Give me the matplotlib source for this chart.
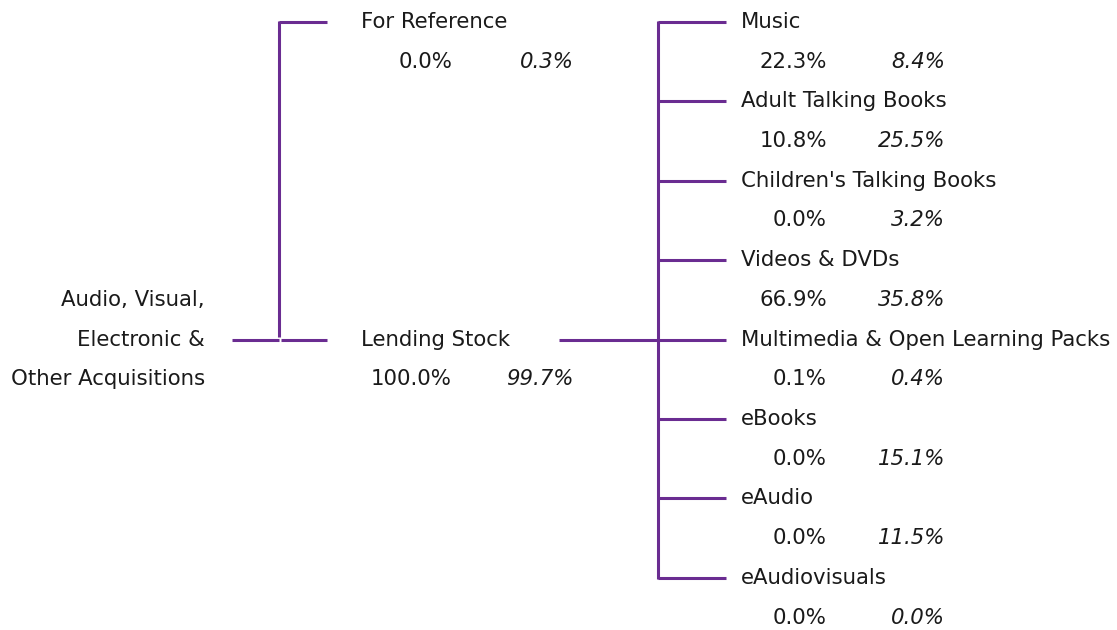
import matplotlib
matplotlib.use("Agg")
import matplotlib.pyplot as plt

plt.rcParams["font.family"] = ["DejaVu Sans"]

# ---- data ----
root_label = ["Audio, Visual,", "Electronic &", "Other Acquisitions"]
level1_names = ["For Reference", "Lending Stock"]
level1_pct_a = [0.0, 100.0]
level1_pct_b = [0.3, 99.7]
level2_names = ["Music", "Adult Talking Books", "Children's Talking Books",
                "Videos & DVDs", "Multimedia & Open Learning Packs",
                "eBooks", "eAudio", "eAudiovisuals"]
level2_pct_a = [22.3, 10.8, 0.0, 66.9, 0.1, 0.0, 0.0, 0.0]
level2_pct_b = [8.4, 25.5, 3.2, 35.8, 0.4, 15.1, 11.5, 0.0]

# ---- layout ----
W, H = 1117, 630
fig = plt.figure(figsize=(W / 100, H / 100), dpi=100)
ax = fig.add_axes([0, 0, 1, 1])
ax.set_xlim(0, W)
ax.set_ylim(H, 0)
ax.axis("off")

LC = "#6a2c91"
TC = "#1a1a1a"
LW = 2.2
FS = 15.3
y0, dy = 22, 39.7

def row(r):
    return y0 + r * dy

# root label
for i, t in enumerate(root_label):
    ax.text(205, row(7 + i), t, ha="right", va="center", fontsize=FS, color=TC)

# level 1
l1_rows = [0, 8]
ax.plot([232, 279], [row(8), row(8)], color=LC, lw=LW, solid_capstyle="butt")
ax.plot([279, 279], [row(0) - 1, row(8) - 3], color=LC, lw=LW, solid_capstyle="butt")
for name, a, b, r in zip(level1_names, level1_pct_a, level1_pct_b, l1_rows):
    ax.plot([279 if r == 0 else 281, 327], [row(r), row(r)], color=LC, lw=LW,
            solid_capstyle="butt")
    ax.text(361, row(r), name, ha="left", va="center", fontsize=FS, color=TC)
    ax.text(452, row(r + 1), f"{a:.1f}%", ha="right", va="center", fontsize=FS, color=TC)
    ax.text(574, row(r + 1), f"{b:.1f}%", ha="right", va="center", fontsize=FS,
            color=TC, style="italic")

# level 2
ax.plot([559, 658], [row(8), row(8)], color=LC, lw=LW, solid_capstyle="butt")
ax.plot([658, 658], [row(0) - 1, row(14) + 1], color=LC, lw=LW, solid_capstyle="butt")
for i, (name, a, b) in enumerate(zip(level2_names, level2_pct_a, level2_pct_b)):
    r = 2 * i
    ax.plot([658, 726], [row(r), row(r)], color=LC, lw=LW, solid_capstyle="butt")
    ax.text(741, row(r), name, ha="left", va="center", fontsize=FS, color=TC)
    ax.text(827, row(r + 1), f"{a:.1f}%", ha="right", va="center", fontsize=FS, color=TC)
    ax.text(945, row(r + 1), f"{b:.1f}%", ha="right", va="center", fontsize=FS,
            color=TC, style="italic")

fig.savefig("out.png", dpi=100)
